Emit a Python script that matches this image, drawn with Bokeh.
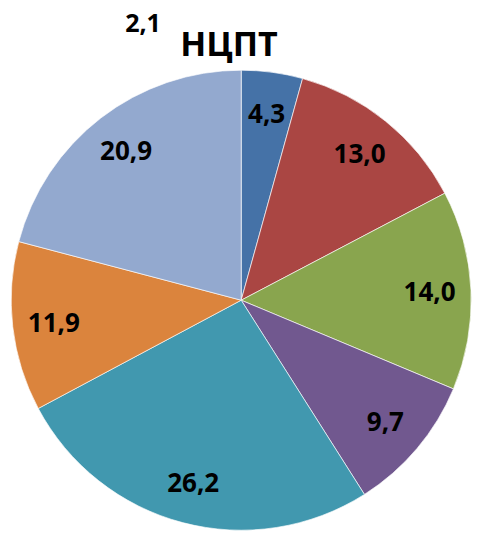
import math
from bokeh.plotting import figure
from bokeh.models import Range1d
from bokeh.core.properties import value
from bokeh.embed import file_html
from bokeh.resources import INLINE

# ---- data ----
title_text = "НЦПТ"
shares = [4.3, 13.0, 14.0, 9.7, 26.2, 11.9, 20.9]
colors = ["#4572A7", "#AA4643", "#89A54E", "#71588F", "#4198AF", "#DB843D", "#93A9CF"]
stray_value = 2.1  # label of a slice of a neighbouring chart

W, H = 480, 534
PAGE_H = 534
CX, CY_PAGE, R = 240.7, 299.7, 230.0
FONT = "Open Sans"


def py(page_y):
    return PAGE_H - page_y


p = figure(width=W, height=H, output_backend="svg", toolbar_location=None,
           x_range=Range1d(0, W), y_range=Range1d(PAGE_H - H, PAGE_H),
           min_border=0)
p.axis.visible = False
p.grid.visible = False
p.outline_line_color = None
p.background_fill_color = "white"
p.border_fill_color = "white"

total = sum(shares)
cum = 0.0
starts, ends, lx, ly, labels = [], [], [], [], []
for v in shares:
    a0 = math.pi / 2 - 2 * math.pi * cum / total
    a1 = math.pi / 2 - 2 * math.pi * (cum + v) / total
    mid = (a0 + a1) / 2
    starts.append(a0)
    ends.append(a1)
    lx.append(CX + 0.82 * R * math.cos(mid))
    ly.append(py(CY_PAGE) + 0.82 * R * math.sin(mid))
    labels.append(f"{v:.1f}".replace(".", ","))
    cum += v

p.wedge(x=CX, y=py(CY_PAGE), radius=R, start_angle=starts, end_angle=ends,
        direction="clock", fill_color=colors, line_color="white", line_width=0.8,
        line_alpha=0.8)

p.text(x=lx, y=ly, text=labels, text_font=value(FONT), text_font_style="bold",
       text_font_size="26px", text_align="center", text_baseline="middle",
       text_color="black")

p.text(x=[228.5], y=[py(42)], text=[title_text], text_font=value(FONT),
       text_font_style="bold", text_font_size="34px", text_align="center",
       text_baseline="alphabetic", text_color="black")

p.text(x=[142.5], y=[py(22)], text=[f"{stray_value:.1f}".replace(".", ",")],
       text_font=value(FONT), text_font_style="bold", text_font_size="25px",
       text_align="center", text_baseline="alphabetic", text_color="black")

open("out.html", "w").write(file_html(p, INLINE))
